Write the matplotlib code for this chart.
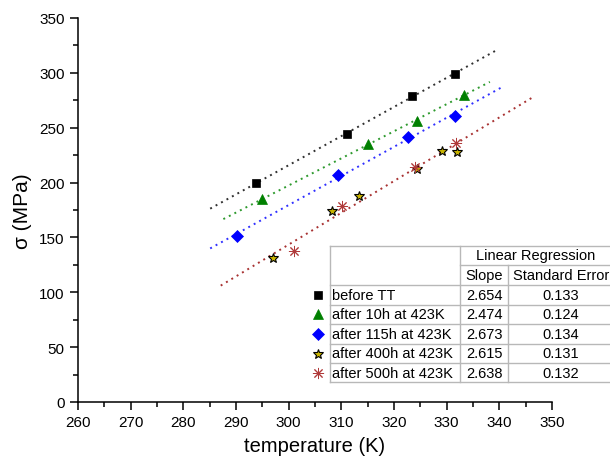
import numpy as np
import matplotlib
matplotlib.use("Agg")
import matplotlib.pyplot as plt
from matplotlib.lines import Line2D
from matplotlib.ticker import MultipleLocator

plt.rcParams['font.family'] = ['Liberation Sans', 'DejaVu Sans']

# ---- data ----
labels = ["before TT", "after 10h at 423K", "after 115h at 423K",
          "after 400h at 423K", "after 500h at 423K"]
t_before = [293.8, 311.0, 323.5, 331.5]
s_before = [199.6, 244.3, 278.9, 299.3]
t_10h = [295.0, 315.1, 324.3, 333.2]
s_10h = [185.0, 235.2, 256.4, 279.9]
t_115h = [290.1, 309.4, 322.7, 331.6]
s_115h = [151.6, 206.9, 241.3, 261.0]
t_400h = [297.1, 308.2, 313.4, 324.4, 329.1, 331.9]
s_400h = [131.3, 174.4, 188.1, 212.4, 229.1, 228.2]
t_500h = [301.0, 310.2, 324.0, 331.7]
s_500h = [137.4, 178.9, 214.5, 235.8]
slopes = ["2.654", "2.474", "2.673", "2.615", "2.638"]
std_err = ["0.133", "0.124", "0.134", "0.131", "0.132"]
# fit line x-ranges (K)
fit_ranges = [(285.1, 339.5), (287.6, 338.2), (285.1, 340.6), (287.1, 346.2)]

W, H = 610, 464
fig = plt.figure(figsize=(W / 100, H / 100), dpi=100)
ax = fig.add_axes([78 / W, 1 - 403 / H, (552 - 78) / W, (403 - 19) / H])

styles = [
    dict(marker='s', color='black', mfc='black', mec='black', ms=5.5, mew=0.5),
    dict(marker='^', color='#008000', mfc='#008000', mec='#008000', ms=7, mew=0.5),
    dict(marker='D', color='#0000ff', mfc='#0000ff', mec='#0000ff', ms=6, mew=0.5),
    dict(marker='*', color='black', mfc='#c8b400', mec='black', ms=7.5, mew=0.8),
    dict(marker=(8, 2, 0), color='#b03a3a', mfc='#b03a3a', mec='#b03a3a', ms=8, mew=0.7),
]
series = [(t_before, s_before), (t_10h, s_10h), (t_115h, s_115h),
          (t_400h, s_400h), (t_500h, s_500h)]
for (t, s), st in zip(series, styles):
    ax.plot(t, s, linestyle='none', zorder=3, **st)

# regression lines
fit_sets = [(t_before, s_before), (t_10h, s_10h), (t_115h, s_115h),
            (t_400h + t_500h, s_400h + s_500h)]
line_colors = ['#303030', '#2e9a2e', '#3030ff', '#a83232']
for (t, s), (x0, x1), c in zip(fit_sets, fit_ranges, line_colors):
    p = np.polyfit(t, s, 1)
    xx = np.array([x0, x1])
    ax.plot(xx, np.polyval(p, xx), color=c, lw=1.4, linestyle=(0, (1, 2.2)), zorder=2)

ax.set_xlim(260, 350)
ax.set_ylim(0, 350)
ax.xaxis.set_major_locator(MultipleLocator(10))
ax.xaxis.set_minor_locator(MultipleLocator(5))
ax.yaxis.set_major_locator(MultipleLocator(50))
ax.yaxis.set_minor_locator(MultipleLocator(25))
for sp in ['top', 'right']:
    ax.spines[sp].set_visible(False)
for sp in ['left', 'bottom']:
    ax.spines[sp].set_linewidth(1.1)
ax.tick_params(which='major', direction='out', length=5.5, width=1.1, labelsize=11, pad=4)
ax.tick_params(which='minor', direction='out', length=3.5, width=1.1)
ax.set_xlabel('temperature (K)', fontsize=14.5, labelpad=5)
ax.set_ylabel('σ (MPa)', fontsize=15, labelpad=5)

# ---- table drawn in figure pixel coordinates ----
def fx(x):
    return x / W

def fy(y):
    return 1 - y / H

gc = '#b8b8b8'
def hline(y, x0, x1):
    fig.add_artist(Line2D([fx(x0), fx(x1)], [fy(y), fy(y)], color=gc, lw=1.0))

def vline(x, y0, y1):
    fig.add_artist(Line2D([fx(x), fx(x)], [fy(y0), fy(y1)], color=gc, lw=1.0))

rows = [285.7, 305.7, 325.0, 345.0, 364.0, 383.3]
top, mid = 246.7, 266.0
xl, xs, xe, xr = 330, 460, 508.3, 612
hline(top, xl, xr)
hline(mid, xs, xr)
for y in rows:
    hline(y, xl, xr)
vline(xl, top, rows[-1])
vline(xs, top, rows[-1])
vline(xe, mid, rows[-1])

fs = 10.5
fig.text(fx((xs + 612) / 2), fy((top + mid) / 2), 'Linear Regression', ha='center', va='center', fontsize=fs)
fig.text(fx((xs + xe) / 2), fy((mid + rows[0]) / 2), 'Slope', ha='center', va='center', fontsize=fs)
fig.text(fx(561), fy((mid + rows[0]) / 2), 'Standard Error', ha='center', va='center', fontsize=fs)
for i in range(5):
    yc = (rows[i] + rows[i + 1]) / 2
    fig.text(fx(xl + 2), fy(yc), labels[i], ha='left', va='center', fontsize=fs)
    fig.text(fx((xs + xe) / 2), fy(yc), slopes[i], ha='center', va='center', fontsize=fs)
    fig.text(fx(561), fy(yc), std_err[i], ha='center', va='center', fontsize=fs)
    st = dict(styles[i])
    fig.add_artist(Line2D([fx(318)], [fy(yc)], linestyle='none', **st))

fig.savefig('out.png', dpi=100)
